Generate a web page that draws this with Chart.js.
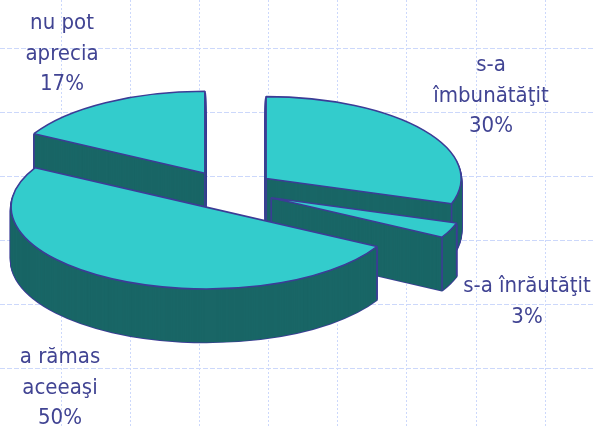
<!DOCTYPE html>
<html>
<head>
<meta charset="utf-8">
<title>pie</title>
<script src="https://cdn.jsdelivr.net/npm/chart.js@4"></script>
<style>
  html, body { margin: 0; padding: 0; background: #fff; overflow: hidden; }
  canvas { display: block; }
</style>
</head>
<body>
<canvas id="sample-chart" width="595" height="427"></canvas>
<script>
// values, clockwise from 12 o'clock
const categories = ['s-a îmbunătăţit', 's-a înrăutăţit', 'a rămas aceeaşi', 'nu pot aprecia'];
const values = [30, 3, 50, 17];
const labelLines = [['s-a', 'îmbunătăţit'], ['s-a înrăutăţit'], ['a rămas', 'aceeaşi'], ['nu pot', 'aprecia']];

// painting order: back slices first, the big one in front
const paintOrder = [3, 0, 1, 2];

const topColor = '#33cccc';
const sideColor = '#196666';
const lineColor = '#3c3c96';
const textColor = '#414493';
const squash = 0.42;
const depth = 53;
const explode = 46.5;

function drawFlat(ctx, arc, dy, overrides) {
    const cx = arc.x, cy = arc.y;
    const mid = (arc.startAngle + arc.endAngle) / 2;
    const flat = Object.create(arc, { options: { value: Object.assign({}, arc.options, overrides), writable: true } });
    ctx.save();
    ctx.translate(cx, cy + dy);
    ctx.scale(1, squash);
    ctx.translate(-cx + Math.cos(mid) * explode, -cy + Math.sin(mid) * explode);
    // keep the outline even: the path is squashed, the pen is not
    const stroke = ctx.stroke;
    ctx.stroke = function () {
        ctx.save();
        ctx.setTransform(1, 0, 0, 1, 0, 0);
        stroke.call(ctx);
        ctx.restore();
    };
    flat.draw(ctx);
    delete ctx.stroke;
    ctx.restore();
}

function corners(arc) {
    const mid = (arc.startAngle + arc.endAngle) / 2;
    const r = arc.outerRadius;
    const ax = arc.x + Math.cos(mid) * explode;
    const ay = arc.y + Math.sin(mid) * explode * squash;
    return [arc.startAngle, arc.endAngle].map(a => [ax + Math.cos(a) * r, ay + Math.sin(a) * r * squash]).concat([[ax, ay]]);
}

const solidPie = {
    id: 'solidPie',
    beforeDatasetsDraw(chart) {
        const ctx = chart.ctx;
        const arcs = chart.getDatasetMeta(0).data;
        paintOrder.forEach(i => {
            const arc = arcs[i];
            for (let dy = depth; dy > 1; dy--) {
                drawFlat(ctx, arc, dy, { backgroundColor: lineColor, borderWidth: 2.6 });
            }
            for (let dy = depth; dy > 1; dy--) {
                drawFlat(ctx, arc, dy, { backgroundColor: sideColor, borderColor: sideColor, borderWidth: 1 });
            }
            ctx.save();
            ctx.strokeStyle = lineColor;
            ctx.lineWidth = arc.options.borderWidth;
            corners(arc).forEach(p => {
                ctx.beginPath();
                ctx.moveTo(p[0], p[1]);
                ctx.lineTo(p[0], p[1] + depth);
                ctx.stroke();
            });
            ctx.restore();
            drawFlat(ctx, arc, 0, {});
        });
        return false;
    }
};

// slide background: pale dashed squares
const slideGrid = {
    id: 'slideGrid',
    beforeDraw(chart) {
        const ctx = chart.ctx;
        ctx.save();
        ctx.strokeStyle = '#ccd8fb';
        ctx.lineWidth = 1;
        ctx.setLineDash([2, 2]);
        for (let x = 60.5; x < 595; x += 69.2) {
            const px = Math.round(x) + 0.5;
            ctx.beginPath();
            ctx.moveTo(px, 0);
            ctx.lineTo(px, 427);
            ctx.stroke();
        }
        ctx.setLineDash([5, 2]);
        for (let y = 48; y < 427; y += 64) {
            ctx.beginPath();
            ctx.moveTo(0, y + 0.5);
            ctx.lineTo(595, y + 0.5);
            ctx.stroke();
        }
        ctx.restore();
    }
};

const labelSpots = [[491, 71], [527, 292], [60, 363], [62, 29]];

const sliceLabels = {
    id: 'sliceLabels',
    afterDraw(chart) {
        const ctx = chart.ctx;
        ctx.save();
        ctx.fillStyle = textColor;
        ctx.font = "22px 'DejaVu Sans Condensed', 'DejaVu Sans'";
        ctx.textAlign = 'center';
        ctx.textBaseline = 'alphabetic';
        categories.forEach((c, i) => {
            const lines = labelLines[i].concat([values[i] + '%']);
            lines.forEach((line, n) => {
                ctx.fillText(line, labelSpots[i][0], labelSpots[i][1] + n * 30.5);
            });
        });
        ctx.restore();
    }
};

const myChart = new Chart(document.getElementById('sample-chart'), {
    type: 'pie',
    data: {
        labels: categories,
        datasets: [{
            data: values,
            backgroundColor: topColor,
            borderColor: lineColor,
            borderWidth: 1.6,
            radius: 195
        }]
    },
    options: {
        responsive: false,
        animation: false,
        layout: { padding: { right: 138, bottom: 47 } },
        plugins: { legend: { display: false }, tooltip: { enabled: false } }
    },
    plugins: [slideGrid, solidPie, sliceLabels]
});
</script>
</body>
</html>
